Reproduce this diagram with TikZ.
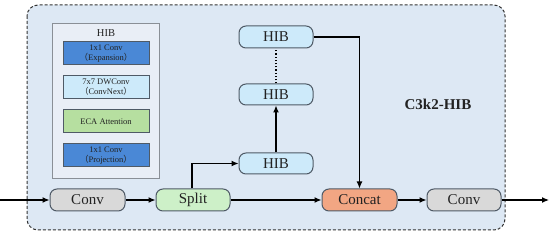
\documentclass[tikz,border=0pt]{standalone}
\usepackage{fontspec}
\setmainfont{Liberation Serif}
\newfontfamily\cjk{Noto Sans CJK SC}
\usetikzlibrary{arrows.meta}
\definecolor{outerfill}{HTML}{DDE8F4}
\definecolor{panelfill}{HTML}{E9EEF6}
\definecolor{panelline}{HTML}{8A8F96}
\definecolor{darkblue}{HTML}{4A88D6}
\definecolor{lightblue}{HTML}{CDEAFA}
\definecolor{greenfill}{HTML}{B6DFA0}
\definecolor{graybox}{HTML}{D9D9D9}
\definecolor{splitfill}{HTML}{CDF0C8}
\definecolor{concatfill}{HTML}{F2A683}
\definecolor{boxline}{HTML}{4F5A66}
\definecolor{txt}{HTML}{222222}
\newcommand{\lp}{{\cjk （}}
\newcommand{\rp}{{\cjk ）}}
\tikzset{
  mainbox/.style={draw=boxline, line width=1pt, rounded corners=7pt, minimum width=74pt, minimum height=22pt, inner sep=0pt, font=\fontsize{15}{15}\selectfont, text=txt},
  hibbox/.style={mainbox, fill=lightblue},
  layerbox/.style={draw=boxline, line width=1pt, minimum width=86pt, minimum height=23pt, inner sep=0pt, align=center, font=\fontsize{8.5}{10}\selectfont, text=txt},
  arr/.style={line width=1.2pt, -{Latex[length=7pt,width=6pt]}, draw=black},
}
\begin{document}
\begin{tikzpicture}[x=1pt,y=-1pt]
\useasboundingbox (0,0) rectangle (550,235);
% outer dashed container
\draw[draw=black!80, line width=1pt, dash pattern=on 3pt off 2pt, fill=outerfill, rounded corners=11pt] (27,5) rectangle (505,230);
% HIB panel
\node[draw=panelline, line width=0.8pt, fill=panelfill, minimum width=107pt, minimum height=155pt, inner sep=0pt] (panel) at (105.5,100.5) {};
\node[font=\fontsize{10.5}{10.5}\selectfont, text=txt, inner sep=0pt] (hibtitle) at (106,33) {HIB};
\node[layerbox, fill=darkblue] (l1) at (106,53.5) {1x1 Conv\\\lp Expansion\rp};
\node[layerbox, fill=lightblue] (l2) at (106,87.5) {7x7 DWConv\\\lp ConvNext\rp};
\node[layerbox, fill=greenfill] (l3) at (106,121.5) {ECA Attention};
\node[layerbox, fill=darkblue] (l4) at (106,155.5) {1x1 Conv\\\lp Projection\rp};
% main row
\coordinate (in) at (0,200);
\coordinate (out) at (549,200);
\node[mainbox, fill=graybox, minimum width=75pt] (conv1) at (87.5,200) {Conv};
\node[mainbox, fill=splitfill] (split) at (193,200) {Split};
\node[mainbox, fill=concatfill, minimum width=75pt] (concat) at (359.5,200) {Concat};
\node[mainbox, fill=graybox] (conv2) at (464,200) {Conv};
% HIB stack
\node[hibbox, minimum height=21pt] (hib1) at (276,163.5) {HIB};
\node[hibbox, minimum height=21pt] (hib2) at (276,94.5) {HIB};
\node[hibbox] (hib3) at (276,37) {HIB};
% label
\node[font=\bfseries\fontsize{15}{15}\selectfont, text=txt] (lbl) at (438,104) {C3k2-HIB};
% connectors
\draw[arr] (in) -- (conv1.west);
\draw[arr] (conv1.east) -- (split.west);
\draw[arr] (split.east) -- (concat.west);
\draw[arr] (concat.east) -- (conv2.west);
\draw[arr] (conv2.east) -- (out);
\draw[arr] (split.north -| 192,0) |- (hib1.west);
\draw[arr] (hib1.north) -- (hib2.south);
\draw[line width=1.2pt, dotted] (hib2.north) -- (hib3.south);
\draw[arr] (hib3.east) -| (concat.north);
\end{tikzpicture}
\end{document}
